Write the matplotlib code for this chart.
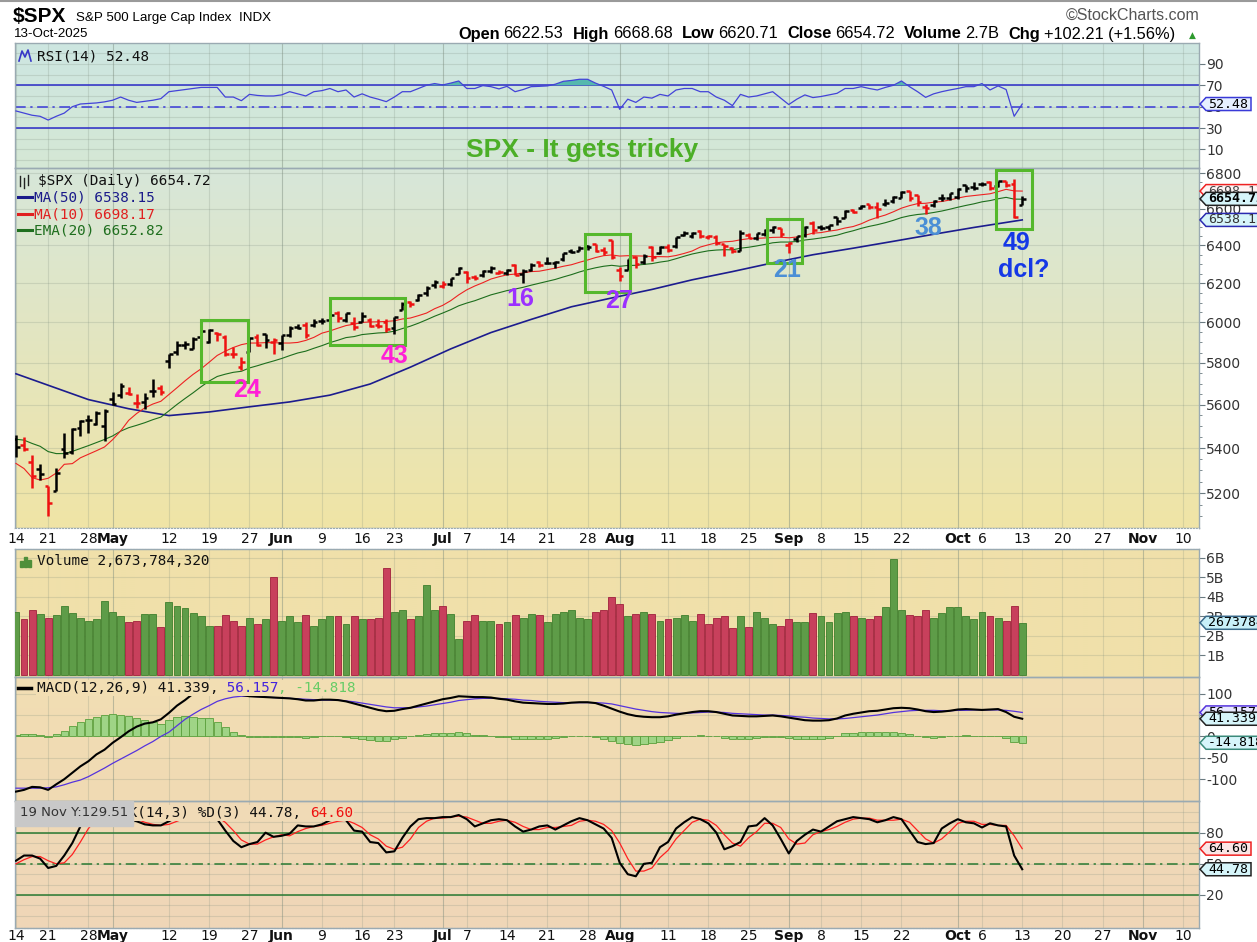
import numpy as np
import matplotlib
matplotlib.use("Agg")
import matplotlib.pyplot as plt
from matplotlib import font_manager
from matplotlib.colors import to_rgb
from matplotlib.lines import Line2D
from matplotlib.patches import Rectangle, Polygon
from matplotlib.ticker import FixedLocator, NullFormatter
from matplotlib.transforms import IdentityTransform

plt.rcParams['axes.unicode_minus'] = False

# ---------------- values ----------------
# trading days 14-Apr-2025 .. 13-Oct-2025 (index 0 .. 125)
opens = [
    5441.96, 5411.99, 5335.75, 5305.45, 5232.94, 5207.67, 5395.92, 5381.38, 5489.73, 5529.22, 5508.87, 5499.44,
    5625.14, 5645.00, 5655.32, 5605.88, 5614.76, 5663.87, 5679.46, 5807.00, 5854.82, 5887.22, 5869.09, 5929.09,
    5902.88, 5944.66, 5928.25, 5841.26, 5781.89, 5854.07, 5925.54, 5939.56, 5903.67,
    5896.68, 5938.56, 5978.94, 5985.67, 5987.06, 6004.60, 6009.91, 6049.38, 6009.90, 5996.68, 6004.00, 6012.15,
    5987.93, 6004.17, 5969.67, 6061.21, 6104.59, 6112.10, 6150.70, 6193.36,
    6187.25, 6193.87, 6246.45, 6259.75, 6233.00, 6245.00, 6262.00, 6255.68, 6255.00, 6295.00, 6250.00, 6270.00,
    6310.00, 6304.00, 6306.00, 6327.00, 6368.00, 6370.00, 6397.00, 6409.00, 6377.00, 6427.00,
    6271.00, 6271.71, 6336.00, 6309.00, 6389.00, 6359.00, 6389.00, 6397.00, 6457.00, 6453.00, 6478.00, 6445.00,
    6445.00, 6406.00, 6387.00, 6370.00, 6457.00, 6441.00, 6459.00, 6483.00, 6494.00,
    6401.00, 6434.00, 6457.00, 6522.00, 6498.00, 6501.00, 6554.00, 6548.00, 6590.00, 6603.00, 6624.00, 6609.00,
    6627.00, 6642.00, 6660.00, 6701.00, 6675.00, 6607.00, 6619.00, 6661.00, 6661.00,
    6665.00, 6731.00, 6722.00, 6740.00, 6749.00, 6729.00, 6753.00, 6740.00, 6622.53,
]
highs = [
    5459.46, 5450.41, 5367.24, 5328.31, 5232.94, 5309.60, 5469.69, 5489.40, 5528.11, 5553.66, 5571.95, 5581.84,
    5658.91, 5700.70, 5683.40, 5649.62, 5654.99, 5720.10, 5691.65, 5844.19, 5906.63, 5906.98, 5924.93, 5958.62,
    5968.61, 5953.06, 5938.54, 5878.08, 5829.51, 5924.33, 5939.92, 5943.13, 5922.14,
    5937.40, 5981.35, 5990.48, 5999.70, 6016.87, 6021.31, 6043.01, 6059.40, 6045.43, 6026.16, 6050.83, 6023.25,
    6018.25, 6018.20, 6028.81, 6101.77, 6108.51, 6146.52, 6187.68, 6215.08,
    6210.78, 6227.60, 6284.65, 6262.18, 6242.88, 6269.14, 6290.22, 6269.00, 6273.31, 6302.04, 6273.00, 6304.00,
    6315.61, 6336.08, 6316.00, 6360.64, 6381.31, 6395.82, 6401.07, 6409.26, 6394.00, 6427.02,
    6287.00, 6330.00, 6343.00, 6352.00, 6395.16, 6395.00, 6409.00, 6446.00, 6480.00, 6473.00, 6481.34, 6456.00,
    6456.00, 6407.00, 6393.00, 6481.00, 6466.00, 6468.00, 6487.00, 6505.00, 6494.00,
    6416.00, 6450.00, 6503.00, 6533.00, 6511.00, 6513.00, 6555.00, 6592.00, 6600.00, 6619.00, 6626.00, 6638.00,
    6656.00, 6671.00, 6696.00, 6701.00, 6676.00, 6625.00, 6650.00, 6679.00, 6689.00,
    6718.00, 6731.00, 6750.00, 6749.00, 6755.00, 6754.00, 6755.00, 6764.00, 6668.68,
]
lows = [
    5358.02, 5386.44, 5220.79, 5255.58, 5101.63, 5207.67, 5356.64, 5371.96, 5455.86, 5468.64, 5505.70, 5433.24,
    5597.35, 5631.62, 5644.44, 5586.04, 5578.64, 5635.17, 5644.63, 5775.75, 5836.65, 5868.88, 5867.44, 5907.65,
    5895.69, 5909.26, 5830.91, 5825.82, 5767.41, 5854.07, 5881.88, 5873.80, 5843.66,
    5861.43, 5929.00, 5966.11, 5921.20, 5978.63, 5994.18, 6000.26, 6002.32, 6003.88, 5963.21, 6004.00, 5974.80,
    5971.89, 5952.56, 5943.23, 6061.21, 6080.10, 6107.12, 6132.35, 6174.97,
    6177.97, 6188.29, 6246.45, 6201.53, 6217.00, 6235.00, 6251.00, 6246.00, 6242.00, 6241.00, 6201.35, 6265.00,
    6285.00, 6303.00, 6281.71, 6315.00, 6358.00, 6368.00, 6375.00, 6363.00, 6347.00, 6327.00,
    6212.69, 6271.71, 6281.00, 6300.00, 6317.00, 6355.00, 6364.00, 6385.00, 6450.00, 6441.00, 6441.00, 6437.00,
    6400.00, 6343.00, 6360.00, 6370.00, 6438.00, 6429.00, 6453.00, 6469.00, 6444.00,
    6360.00, 6416.00, 6445.00, 6461.00, 6482.00, 6481.00, 6513.00, 6547.00, 6575.00, 6600.00, 6601.00, 6551.00,
    6614.00, 6633.00, 6660.00, 6642.00, 6617.00, 6569.00, 6612.00, 6643.00, 6648.00,
    6656.00, 6693.00, 6706.00, 6727.00, 6703.00, 6719.00, 6719.00, 6550.00, 6620.71,
]
closes = [
    5405.97, 5396.63, 5275.70, 5282.70, 5158.20, 5287.76, 5375.86, 5484.77, 5525.21, 5528.75, 5560.83, 5569.06,
    5604.14, 5686.67, 5650.38, 5606.91, 5631.28, 5663.94, 5659.91, 5844.19, 5886.55, 5892.58, 5916.93, 5958.38,
    5963.60, 5940.46, 5844.61, 5842.01, 5802.82, 5921.54, 5888.55, 5912.17, 5911.69,
    5935.94, 5970.37, 5970.81, 5939.30, 6000.36, 6005.88, 6038.81, 6022.24, 6045.26, 5976.97, 6033.11, 5982.72,
    5980.87, 5967.84, 6025.17, 6092.18, 6092.16, 6141.02, 6173.07, 6204.95,
    6198.01, 6227.42, 6279.35, 6229.98, 6225.52, 6263.26, 6280.46, 6259.75, 6268.56, 6243.76, 6263.70, 6297.36,
    6296.79, 6305.60, 6309.62, 6358.91, 6363.35, 6388.64, 6389.77, 6370.86, 6362.90, 6339.39,
    6238.01, 6329.94, 6299.19, 6345.06, 6340.00, 6389.45, 6373.45, 6445.76, 6466.58, 6468.54, 6449.80, 6449.15,
    6411.37, 6395.78, 6370.17, 6466.91, 6439.32, 6465.94, 6481.40, 6501.86, 6460.26,
    6415.54, 6448.26, 6502.08, 6481.50, 6495.15, 6512.61, 6532.04, 6587.47, 6584.29, 6615.28, 6606.76, 6600.35,
    6631.96, 6664.36, 6693.75, 6656.92, 6637.97, 6604.72, 6643.70, 6661.21, 6688.46,
    6711.20, 6715.35, 6715.79, 6740.28, 6714.59, 6753.72, 6735.11, 6552.51, 6654.72,
]
prev_close = 5363.36   # 11-Apr close, colours the first bar

ma10 = [
    5331, 5308, 5268, 5257, 5265, 5288, 5327, 5330, 5356, 5372, 5388, 5405,
    5438, 5478, 5527, 5559, 5585, 5603, 5616, 5648, 5680, 5713, 5744, 5771, 5803, 5836, 5857, 5875, 5889, 5897,
    5897, 5899, 5899,
    5897, 5897, 5900, 5910, 5925, 5946, 5957, 5971, 5984, 5991, 6000, 6002, 6003, 6005, 6008, 6017, 6022, 6034,
    6047, 6069,
    6086, 6110, 6140, 6166, 6186, 6203, 6222, 6234, 6244, 6248, 6254, 6261, 6263, 6271, 6279, 6289, 6297, 6310,
    6322, 6335, 6345, 6349,
    6343, 6345, 6344, 6343, 6340, 6340, 6339, 6346, 6357, 6370, 6391, 6403, 6414, 6419, 6422, 6430, 6436, 6438,
    6440, 6443, 6444,
    6441, 6445, 6455, 6466, 6469, 6477, 6483, 6494, 6502, 6517, 6537, 6552, 6565, 6583, 6603, 6617, 6628, 6630,
    6636, 6640, 6648,
    6659, 6668, 6673, 6678, 6683, 6695, 6708, 6699, 6698.17,
]
ema20 = [
    5440, 5436, 5421, 5408, 5384, 5375, 5375, 5385, 5398, 5411, 5425, 5439,
    5455, 5477, 5493, 5504, 5516, 5530, 5542, 5571, 5601, 5629, 5656, 5685, 5712, 5734, 5745, 5754, 5759, 5775,
    5786, 5798, 5809,
    5821, 5835, 5848, 5857, 5871, 5884, 5899, 5911, 5924, 5929, 5939, 5943, 5947, 5949, 5956, 5969, 5981, 5996,
    6013, 6031,
    6047, 6064, 6084, 6098, 6110, 6125, 6140, 6151, 6162, 6170, 6179, 6190, 6200, 6210, 6220, 6233, 6245, 6259,
    6271, 6281, 6289, 6294,
    6289, 6293, 6294, 6299, 6303, 6311, 6317, 6329, 6342, 6354, 6363, 6371, 6375, 6377, 6376, 6385, 6390, 6397,
    6405, 6414, 6418,
    6418, 6421, 6429, 6434, 6440, 6447, 6455, 6468, 6479, 6492, 6503, 6512, 6523, 6536, 6551, 6561, 6568, 6572,
    6579, 6587, 6597,
    6608, 6618, 6627, 6638, 6645, 6655, 6663, 6653, 6652.82,
]
ma50_days = [0, 4, 9, 14, 19, 24, 29, 34, 39, 44, 49, 54, 59, 64, 69, 74, 79, 84, 89, 94, 99, 104, 109, 114, 119, 125]
ma50 = [5747, 5692, 5624, 5581, 5549, 5566, 5590, 5613, 5645, 5698, 5779, 5868, 5949, 6015, 6079, 6124, 6168,
        6218, 6261, 6307, 6350, 6385, 6422, 6460, 6497, 6538.15]

volume_b = [
    3.22, 2.84, 3.33, 3.14, 2.91, 3.07, 3.53, 3.16, 2.93, 2.76, 2.84, 3.78,
    3.24, 3.00, 2.69, 2.76, 3.14, 3.14, 2.45, 3.71, 3.53, 3.40, 3.16, 3.00, 2.53, 2.53, 3.07, 2.76, 2.53, 2.93,
    2.62, 2.84, 5.03,
    2.76, 3.00, 2.69, 3.07, 2.53, 2.84, 3.00, 3.00, 2.62, 3.00, 2.84, 2.84, 2.91, 5.48, 3.24, 3.31, 2.84, 3.00,
    4.62, 3.31,
    3.53, 3.14, 1.84, 2.76, 3.07, 2.76, 2.76, 2.62, 2.69, 3.07, 2.91, 3.14, 3.07, 2.69, 3.14, 3.22, 3.31, 2.91,
    2.84, 3.22, 3.31, 4.00,
    3.62, 3.00, 3.14, 3.22, 3.14, 2.76, 2.84, 2.91, 3.07, 2.76, 3.14, 2.62, 2.91, 3.00, 2.38, 3.00, 2.45, 3.22,
    2.91, 2.62, 2.53,
    2.84, 2.69, 2.69, 3.16, 3.00, 2.69, 3.16, 3.22, 3.00, 2.91, 2.84, 3.00, 3.46, 5.95, 3.31, 3.07, 3.00, 3.31,
    2.91, 3.16, 3.46,
    3.46, 3.00, 2.84, 3.22, 3.00, 2.91, 2.76, 3.53, 2.67,
]

rsi = [
    46, 44, 42, 41, 37.5, 41, 44, 50, 52.5, 53, 53.5, 54.5,
    56, 59, 56, 54, 55, 56, 57.5, 64, 65, 66, 67, 68, 68, 68, 59, 59, 55.6, 61.5, 60.5, 60, 60,
    61, 64, 62, 60, 64, 65, 67, 64, 65.6, 59, 62, 59, 57, 54.7, 59, 64, 64, 67, 70, 71.6,
    70.3, 72, 74, 67, 67, 69.7, 68.7, 66.6, 69, 64, 66, 68.7, 69, 69.4, 71, 73.7, 74.5, 75.6, 75.6, 72, 69, 65.6,
    47.5, 57, 54, 59, 58, 61.5, 60, 65.6, 67, 67, 64, 64, 59, 56, 51, 61.5, 59, 60, 62, 64, 58,
    52, 57, 61, 58.5, 59.5, 61, 62.5, 67, 67, 68.7, 67, 65.6, 68, 70, 74, 68.7, 64, 58.7, 62, 64, 65.6,
    67, 68.7, 68.7, 71.6, 65.6, 69.4, 66, 41, 52.48,
]

macd = [
    -129, -125, -118, -119, -125, -112, -100, -85, -70, -58, -42, -31,
    -15, -2, 12, 23, 30, 33, 40, 55, 72, 85, 100, 112, 120, 118, 112, 104, 97, 94, 93, 92, 91,
    90, 89, 87, 84, 84, 86, 86, 85, 82, 77, 72, 67, 62, 59, 60, 64, 67, 72, 77, 82,
    87, 90, 94, 93, 92, 92, 91, 88, 86, 82, 79, 78, 77, 76, 76, 77, 79, 80, 80, 78, 72, 65,
    58, 52, 48, 46, 45, 45, 47, 51, 54, 57, 59, 59, 57, 53, 49, 48, 47, 47, 48, 49, 47,
    44, 41, 38, 37, 37, 38, 42, 49, 53, 56, 59, 60, 63, 66, 67, 66, 63, 59, 57, 58, 60,
    63, 64, 63, 62, 63, 64, 57, 46, 41.339,
]
macd_signal = [
    -121, -121, -121, -121, -120, -118, -113, -107, -102, -94, -84, -74,
    -63, -53, -43, -33, -22, -12, 0, 10, 25, 40, 52, 63, 72, 82, 88, 92, 94, 94, 93, 92, 91,
    90, 89, 88, 87, 86, 85, 85, 85, 83, 81, 78, 75, 72, 69, 67, 67, 67, 69, 71, 74,
    77, 80, 84, 86, 88, 89, 89, 89, 88, 87, 85, 84, 82, 81, 80, 79, 79, 79, 79, 79, 78, 76,
    72, 68, 64, 61, 58, 56, 55, 54, 54, 55, 56, 57, 57, 56, 54, 53, 52, 51, 50, 50, 49,
    48, 46, 45, 43, 42, 41, 41, 42, 44, 46, 48, 50, 53, 56, 58, 60, 61, 61, 61, 60, 60,
    61, 61, 62, 62, 62, 62, 61, 58.8, 56.157,
]
macd_hist = [
    4, 5, 5, 4, -1, 5, 13, 24, 33, 40, 46, 49,
    52, 51, 48, 44, 38, 33, 30, 38, 45, 47, 46, 44, 42, 34, 22, 11, 4, -1, -1, -1, -1,
    -1, -1, -1, -3, -2, 1, 1, 0, -1, -4, -6, -8, -10, -11, -7, -3, 0, 3, 6, 8,
    9, 9, 10, 7, 4, 3, 2, -1, -2, -5, -6, -6, -5, -5, -4, -2, 0, 1, 1, -1, -6, -10,
    -15, -18, -19, -18, -16, -13, -9, -3, 0, 2, 3, 2, 0, -3, -5, -5, -5, -4, -2, -1, -2,
    -4, -5, -7, -6, -5, -3, 1, 7, 9, 10, 11, 10, 10, 10, 9, 6, 2, -2, -4, -2, 0,
    2, 3, 1, 0, 1, 2, -4, -13, -14.818,
]

stoch_k = [
    53, 58, 58, 55, 46, 48, 58, 70, 86, 96, 98, 98,
    97, 96, 93, 91, 88, 87, 87, 91, 95, 96, 96, 97, 96, 93, 82, 72, 66, 69, 71, 80, 76,
    77, 79, 87, 86, 86, 88, 92, 93, 92, 82, 81, 71, 70, 61, 62, 75, 86, 93, 94, 94,
    95, 95, 97, 93, 86, 89, 92, 93, 92, 86, 81, 83, 86, 87, 83, 87, 91, 94, 92, 88, 84, 75,
    51, 40, 38, 50, 51, 66, 71, 84, 90, 95, 93, 89, 80, 64, 67, 71, 86, 87, 94, 87, 74,
    60, 72, 78, 83, 81, 86, 91, 93, 95, 94, 93, 90, 92, 95, 93, 82, 71, 69, 70, 84, 89,
    93, 90, 89, 85, 89, 87, 86, 58, 44.78,
]
stoch_d = [
    50, 54, 57, 57, 53, 50, 51, 59, 71, 84, 93, 97,
    98, 97, 95, 93, 90, 88, 87, 88, 91, 94, 96, 96, 96, 95, 90, 82, 73, 69, 69, 73, 76,
    78, 77, 81, 84, 86, 87, 89, 91, 92, 89, 85, 78, 74, 67, 64, 66, 74, 85, 91, 94,
    94, 95, 96, 95, 92, 89, 89, 91, 92, 90, 86, 83, 83, 85, 85, 86, 87, 91, 92, 91, 88, 82,
    70, 55, 43, 43, 46, 56, 63, 74, 82, 90, 93, 92, 87, 78, 70, 67, 75, 81, 89, 89, 85,
    74, 69, 70, 78, 81, 83, 86, 90, 93, 94, 94, 92, 92, 92, 93, 90, 82, 74, 70, 74, 81,
    89, 91, 91, 88, 88, 87, 87, 77, 64.60,
]

# date axis (trading-day index, label); month names are bold
tick_days = [0, 4, 9, 12, 19, 24, 29, 33, 38, 43, 47, 53, 56, 61, 66, 71, 75, 81, 86, 91,
             96, 100, 105, 110, 117, 120, 125, 130, 135, 140, 145]
tick_text = ['14', '21', '28', 'May', '12', '19', '27', 'Jun', '9', '16', '23', 'Jul', '7', '14', '21', '28',
             'Aug', '11', '18', '25', 'Sep', '8', '15', '22', 'Oct', '6', '13', '20', '27', 'Nov', '10']
month_days = [12, 33, 53, 75, 96, 117, 140]

# hand-drawn notes on the price panel: (day0, day1, price_low, price_high)
boxes = [(23.0, 28.8, 5707, 6011), (39.0, 48.3, 5887, 6123), (70.7, 76.3, 6155, 6461),
         (93.3, 97.6, 6306, 6543), (121.7, 126.2, 6488, 6817)]
notes = [('24', 28.7, 5669, '#ff1fd6'), ('43', 47.0, 5833, '#ff1fd6'), ('16', 62.7, 6119, '#9b30ff'),
         ('27', 74.9, 6108, '#9b30ff'), ('21', 95.8, 6269, '#4b8fd6'), ('38', 113.4, 6494, '#4b8fd6'),
         ('49', 124.3, 6413, '#1538e6'), ('dcl?', 125.2, 6269, '#1538e6')]

# ---------------- layout ----------------
W, H = 1257, 942
L, R = 15, 1199
MONO = 'DejaVu Sans Mono'
installed = {f.name for f in font_manager.fontManager.ttflist}
NARROW = 'Liberation Sans Narrow' if 'Liberation Sans Narrow' in installed else 'Liberation Sans'

fig = plt.figure(figsize=(W / 100, H / 100), dpi=100)
fig.patch.set_facecolor('white')
renderer = fig.canvas.get_renderer()

days = np.arange(len(closes))
c_arr = np.array(closes)
up = c_arr >= np.concatenate([[prev_close], c_arr[:-1]])


def fy(y):
    return 1 - y / H


def panel(top, bottom, c_top=None, c_bot=None):
    rect = [L / W, fy(bottom), (R - L) / W, (bottom - top) / H]
    if c_top is not None:
        bg = fig.add_axes(rect, zorder=-1)
        c0, c1 = np.array(to_rgb(c_top)), np.array(to_rgb(c_bot))
        t = np.linspace(0, 1, 64)[:, None, None]
        bg.imshow(c0 + (c1 - c0) * t, extent=[0, 1, 0, 1], aspect='auto', interpolation='bilinear')
        bg.axis('off')
    ax = fig.add_axes(rect)
    ax.set_facecolor('none')
    ax.set_xlim(-0.12, 146.96)
    for s in ax.spines.values():
        s.set_color('#9aaab2')
        s.set_linewidth(1.0)
    ax.tick_params(axis='x', bottom=False, labelbottom=False)
    return ax


def vgrid(ax):
    for d in tick_days:
        ax.axvline(d, color='#7a8a7c', alpha=0.45 if d in month_days else 0.22, lw=0.8, zorder=1)


def hgrid(ax, levels, alpha=0.22):
    for v in levels:
        ax.axhline(v, color='#7a8a7c', alpha=alpha, lw=0.8, zorder=1)


def right_ticks(ax, ticks, labels):
    ax.yaxis.tick_right()
    ax.set_yticks(ticks, labels=labels)
    ax.tick_params(axis='y', which='major', length=4, width=0.8, color='#6a7a80',
                   labelsize=10, labelcolor='#333333', pad=1)


tag_list = []


def tag(ax, y, text, edge, face='#d6f5fa', color='black', bold=False, z=6):
    t = ax.annotate(text, xy=(1, y), xycoords=('axes fraction', 'data'), xytext=(9, 0),
                    textcoords='offset pixels', ha='left', va='center', fontsize=9.5, family=MONO,
                    color=color, fontweight='bold' if bold else 'normal', zorder=z,
                    annotation_clip=False)
    tag_list.append((ax, t, edge, face, z))


def run(x0, y, pieces, size, family, bg=None, z=3):
    x = x0
    for s, weight, col, gap in pieces:
        kw = {}
        if bg is not None:
            kw['bbox'] = dict(boxstyle='square,pad=0.05', fc=bg, ec='none')
        t = fig.text(x / W, fy(y), s, fontsize=size, family=family, fontweight=weight,
                     color=col, va='center', ha='left', zorder=z, **kw)
        x += t.get_window_extent(renderer).width + gap
    return x


def fit_run(x0, y, pieces, width, family, base=10.0):
    total = 0
    for s, weight, col, gap in pieces:
        t = fig.text(0, 0, s, fontsize=base, family=family, fontweight=weight)
        total += t.get_window_extent(renderer).width + gap
        t.remove()
    return run(x0, y, pieces, base * width / total, family)


def dash(x0, x1, y, color, lw=2.2):
    fig.add_artist(Line2D([x0 / W, x1 / W], [fy(y), fy(y)], color=color, lw=lw))


# ---------------- header ----------------
fig.add_artist(Line2D([0, 1], [fy(1), fy(1)], color='#9a9a9a', lw=1.5))
run(13, 16, [('$SPX', 'bold', 'black', 0)], 15, NARROW)
run(76, 18, [('S&P 500 Large Cap Index  INDX', 'normal', 'black', 0)], 9.6, NARROW)
run(14, 34, [('13-Oct-2025', 'normal', 'black', 0)], 9.6, NARROW)
fit_run(1066, 15, [('\u00a9StockCharts.com', 'normal', '#555555', 0)], 134, NARROW, 10)
hdr = [('Open', 'bold', 'black', 4), ('6622.53', 'normal', 'black', 9),
       ('High', 'bold', 'black', 4), ('6668.68', 'normal', 'black', 9),
       ('Low', 'bold', 'black', 4), ('6620.71', 'normal', 'black', 9),
       ('Close', 'bold', 'black', 4), ('6654.72', 'normal', 'black', 9),
       ('Volume', 'bold', 'black', 4), ('2.7B', 'normal', 'black', 9),
       ('Chg', 'bold', 'black', 4), ('+102.21 (+1.56%)', 'normal', 'black', 0)]
fit_run(458, 34, hdr, 728, NARROW, 10.5)
fig.text(1189 / W, fy(35), '\u25b2', fontsize=6.5, color='#2e9a2e', va='center', ha='left')

# ---------------- RSI ----------------
ax_r = panel(43, 168, '#cde6e1', '#d5e8d5')
ax_r.set_ylim(-7.3, 109.5)
hgrid(ax_r, range(0, 101, 10))
vgrid(ax_r)
rs = np.array(rsi)
ax_r.axhline(70, color='#2c2cc8', lw=1.1, zorder=2)
ax_r.axhline(30, color='#2c2cc8', lw=1.1, zorder=2)
ax_r.axhline(50, color='#3a3ad8', lw=1.1, ls=(0, (7, 3, 1.5, 3)), zorder=2)
ax_r.fill_between(days, rs, 70, where=rs > 70, interpolate=True, color='#55b8ae', lw=0, zorder=2)
ax_r.plot(days, rs, color='#4343d8', lw=0.9, zorder=3)
right_ticks(ax_r, [10, 30, 50, 70, 90], ['10', '30', '50', '70', '90'])
tag(ax_r, rsi[-1], '52.48', '#3a3ad8', face='#e6f0ff')
fig.add_artist(Line2D(np.array([19, 22, 25, 28, 31]) / W, fy(np.array([61, 51, 57, 50, 61])),
                      color='#3838c8', lw=1.2))
run(37, 56, [('RSI(14) 52.48', 'normal', '#111111', 0)], 10.4, MONO)
fig.text(582 / W, fy(150), 'SPX - It gets tricky', fontsize=19, fontweight='bold', color='#4caf27',
         family='Liberation Sans', ha='center', va='center')

# ---------------- price ----------------
ax_p = panel(168, 528, '#d7e7d9', '#f0e4a6')
ax_p.set_yscale('log')
ax_p.set_ylim(5050, 6829)
hgrid(ax_p, range(5200, 6801, 200))
vgrid(ax_p)
ax_p.plot(ma50_days, ma50, color='#1c1c8e', lw=1.2, zorder=3)
ax_p.plot(days, ema20, color='#1d6e1d', lw=0.8, zorder=3)
ax_p.plot(days, ma10, color='#ee2222', lw=0.8, zorder=3)
bar_col = np.where(up, '#000000', '#ee1111')
ax_p.vlines(days, lows, highs, colors=bar_col, lw=1.8, zorder=4)
ax_p.hlines(opens, days - 0.45, days, colors=bar_col, lw=1.8, zorder=4)
ax_p.hlines(closes, days, days + 0.45, colors=bar_col, lw=1.8, zorder=4)
for d0, d1, p0, p1 in boxes:
    ax_p.add_patch(Rectangle((d0, p0), d1 - d0, p1 - p0, fill=False, ec='#55b82c', lw=2.2, zorder=6))
for s, d, p, col in notes:
    ax_p.text(d, p, s, color=col, fontsize=18, fontweight='bold', family='Liberation Sans',
              ha='center', va='center', zorder=7)
pt = list(range(5200, 6801, 200))
right_ticks(ax_p, pt, [str(v) for v in pt])
ax_p.yaxis.set_minor_locator(FixedLocator(np.arange(5100, 6850, 50)))
ax_p.yaxis.set_minor_formatter(NullFormatter())
ax_p.tick_params(axis='y', which='minor', length=2, width=0.6, color='#6a7a80')
tag(ax_p, ma10[-1], '6698.17', '#ee2222', face='#fff4f4', color='#444444', z=5)
tag(ax_p, ma50[-1], '6538.15', '#2a2ab0', face='#d6f5fa', color='#333333', z=6)
tag(ax_p, closes[-1], '6654.72', '#222222', face='#d6f5fa', bold=True, z=7)
# small bar glyph in front of the price legend
for gx, g0, g1 in [(20, 176, 186), (24, 178, 188), (28, 175, 185)]:
    fig.add_artist(Line2D([gx / W, gx / W], [fy(g1), fy(g0)], color='#222222', lw=1.0))
run(38, 181, [('$SPX (Daily) 6654.72', 'normal', '#111111', 0)], 10.4, MONO)
for yy, txt, col in [(197, 'MA(50) 6538.15', '#1a1a8a'), (214, 'MA(10) 6698.17', '#e02020'),
                     (230, 'EMA(20) 6652.82', '#1f6f1f')]:
    dash(18, 32, yy, col)
    run(34, yy, [(txt, 'normal', col, 0)], 10.4, MONO)

# ---------------- date strips ----------------
for top, bottom, ty in [(528, 549, 539), (928, 943, 936)]:
    ax_d = fig.add_axes([L / W, fy(bottom), (R - L) / W, (bottom - top) / H])
    ax_d.set_xlim(-0.12, 146.96)
    ax_d.set_ylim(0, 1)
    ax_d.set_xticks([])
    ax_d.set_yticks([])
    for k, s in ax_d.spines.items():
        if k in ('left', 'right'):
            s.set_visible(False)
        else:
            s.set_color('#9aaab2')
            s.set_linestyle(':')
    for d, s in zip(tick_days, tick_text):
        fig.text((16 + 8.05 * d) / W, fy(ty), s, fontsize=10, ha='center', va='center', color='#111111',
                 fontweight='bold' if d in month_days else 'normal')

# ---------------- volume ----------------
ax_v = panel(549, 677, '#f0e1aa', '#f0e0aa')
ax_v.set_ylim(-0.1, 6.44)
hgrid(ax_v, range(1, 7))
vgrid(ax_v)
ax_v.bar(days, volume_b, width=0.86, color=np.where(up, '#5e9c48', '#c8405c'),
         edgecolor=np.where(up, '#3f7f2d', '#a0203c'), lw=0.6, zorder=3)
right_ticks(ax_v, [1, 2, 3, 4, 5, 6], ['1B', '2B', '3B', '4B', '5B', '6B'])
tag(ax_v, volume_b[-1], '2673784320', '#3a6a8a', face='#c8f0f8')
for bx, bh in [(20, 6), (24, 10), (28, 7)]:
    fig.add_artist(Rectangle((bx / W, fy(567)), 3 / W, bh / H, color='#4f8f3a'))
run(37, 561, [('Volume 2,673,784,320', 'normal', '#111111', 0)], 10.4, MONO)

# ---------------- MACD ----------------
ax_m = panel(677, 801, '#f2deb3', '#f0dab4')
ax_m.set_ylim(-151, 139)
hgrid(ax_m, [-100, -50, 0, 50, 100])
vgrid(ax_m)
ax_m.bar(days, macd_hist, width=0.92, color='#9fd486', edgecolor='#5aa03c', lw=0.6, zorder=2)
ax_m.plot(days, macd_signal, color='#5533dd', lw=0.9, zorder=3)
ax_m.plot(days, macd, color='black', lw=1.5, zorder=4)
right_ticks(ax_m, [-100, -50, 0, 50, 100], ['-100', '-50', '0', '50', '100'])
tag(ax_m, macd_signal[-1], '56.157', '#5533dd', face='#e8e8ff', z=5)
tag(ax_m, macd[-1], '41.339', '#222222', face='#d6f5fa', z=6)
tag(ax_m, macd_hist[-1], '-14.818', '#3a8a7a', face='#d6f5fa', z=6)
dash(18, 31, 688, 'black', lw=2.5)
run(37, 688, [('MACD(12,26,9) 41.339', 'normal', '#111111', 0), (',', 'normal', '#111111', 0),
              (' 56.157', 'normal', '#4422dd', 0), (', -14.818', 'normal', '#66cc66', 0)],
    10.4, MONO, bg='#f2deb3')

# ---------------- slow stochastics ----------------
ax_s = panel(801, 928, '#f0dab6', '#efd6b8')
ax_s.set_ylim(-11.8, 110.5)
hgrid(ax_s, range(0, 101, 10))
vgrid(ax_s)
ax_s.axhline(80, color='#2a7a32', lw=1.1, zorder=2)
ax_s.axhline(20, color='#2a7a32', lw=1.1, zorder=2)
ax_s.axhline(50, color='#2a7a32', lw=1.1, ls=(0, (7, 3, 1.5, 3)), zorder=2)
ax_s.plot(days, stoch_d, color='#ff2020', lw=0.9, zorder=3)
ax_s.plot(days, stoch_k, color='black', lw=1.5, zorder=4)
right_ticks(ax_s, [20, 50, 80], ['20', '50', '80'])
tag(ax_s, stoch_d[-1], '64.60', '#ee2222', face='#fbe6e6', z=5)
tag(ax_s, stoch_k[-1], '44.78', '#222222', face='#d6f5fa', z=6)
run(120, 813, [('%K(14,3) %D(3) 44.78, ', 'normal', '#111111', 0), ('64.60', 'normal', '#ee1111', 0)],
    10.4, MONO, bg='#f0dab6')
fig.add_artist(Rectangle((15 / W, fy(826)), 118 / W, 25 / H, color='#c8c8c8', zorder=4))
fig.text(20 / W, fy(813), '19 Nov Y:129.51', fontsize=9.5, color='#333333', va='center', ha='left', zorder=5)

# ---------------- value tags on the right axis ----------------
fig.canvas.draw()
renderer = fig.canvas.get_renderer()
for ax, t, edge, face, z in tag_list:
    bb = t.get_window_extent(renderer)
    x0, x1, y0, y1 = bb.x0 - 2, bb.x1 + 3, bb.y0, bb.y1
    ym = 0.5 * (y0 + y1)
    ax.add_artist(Polygon([(x0 - 6, ym), (x0, y1), (x1, y1), (x1, y0), (x0, y0)], closed=True,
                          transform=IdentityTransform(), fc=face, ec=edge, lw=1.1, zorder=z - 0.5,
                          clip_on=False))

fig.savefig('out.png', dpi=100)
